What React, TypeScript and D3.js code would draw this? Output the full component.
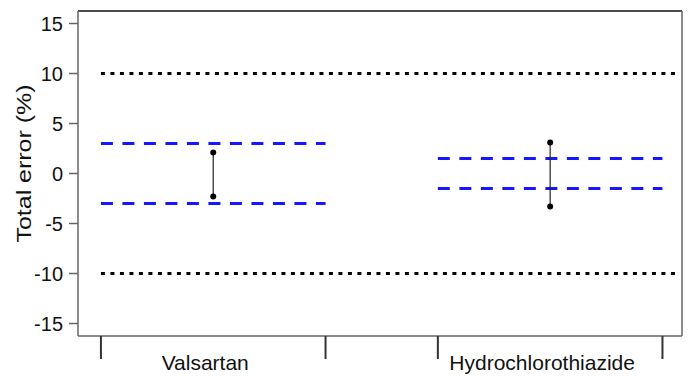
import React from 'react'
import * as d3 from 'd3'

// data
const drugs = ['Valsartan', 'Hydrochlorothiazide']
const errorLow = [-2.3, -3.3]
const errorHigh = [2.1, 3.1]
const acceptLimits = [3, 1.5] // blue dashed, +/- per drug
const totalLimits = [10, -10] // black dotted
const yTicks = [15, 10, 5, 0, -5, -10, -15]

const width = 691
const height = 376
const frame = {left: 78, right: 682, top: 11, bottom: 336}
const font = '"Liberation Sans", Arial, sans-serif'

export default function App() {
  const y = d3.scaleLinear().domain([-16.25, 16.25]).range([frame.bottom, frame.top])
  const x = d3
    .scaleBand()
    .domain(drugs)
    .range([frame.left, frame.right])
    .paddingInner(1 / 3)
    .paddingOuter(0.063)
    .align(0.54)

  const bw = x.bandwidth()
  const dotStart = x(drugs[0]) as number

  return (
    <svg
      width={width}
      height={height}
      style={{position: 'absolute', left: 0, top: 0, background: '#fff'}}
      fontFamily={font}
    >
      {/* frame */}
      <line x1={frame.left} x2={frame.right} y1={frame.top} y2={frame.top} stroke="#111" strokeWidth={1.5} />
      <line x1={frame.right} x2={frame.right} y1={frame.top} y2={frame.bottom} stroke="#666" strokeWidth={1.5} />
      <line x1={frame.left} x2={frame.right} y1={frame.bottom} y2={frame.bottom} stroke="#666" strokeWidth={1.5} />
      <line x1={frame.left} x2={frame.left} y1={frame.top} y2={frame.bottom} stroke="#666" strokeWidth={1.5} />

      {/* y axis */}
      {yTicks.map((t) => (
        <g key={t} transform={`translate(0,${y(t)})`}>
          <line x1={frame.left - 9} x2={frame.left} stroke="#666" strokeWidth={1.5} />
          <text x={frame.left - 15} dy="0.35em" textAnchor="end" fontSize={20} fill="#111">
            {t}
          </text>
        </g>
      ))}
      <text
        transform={`translate(24,${(frame.top + frame.bottom) / 2 - 10}) rotate(-90)`}
        textAnchor="middle"
        dy="0.35em"
        fontSize={20}
        textLength={158}
        lengthAdjust="spacingAndGlyphs"
        fill="#111"
      >
        Total error (%)
      </text>

      {/* x axis: group edges + labels */}
      {drugs.map((d) => {
        const x0 = x(d) as number
        return (
          <g key={d}>
            <line x1={x0} x2={x0} y1={frame.bottom} y2={frame.bottom + 23} stroke="#333" strokeWidth={2} />
            <line x1={x0 + bw} x2={x0 + bw} y1={frame.bottom} y2={frame.bottom + 23} stroke="#333" strokeWidth={2} />
            <text x={x0 + bw / 2 - 8} y={frame.bottom + 34} textAnchor="middle" fontSize={21} fill="#111">
              {d}
            </text>
          </g>
        )
      })}

      {/* total error limits */}
      {totalLimits.map((v) => (
        <line
          key={v}
          x1={dotStart}
          x2={frame.right - 2}
          y1={y(v)}
          y2={y(v)}
          stroke="#000"
          strokeWidth={2.8}
          strokeDasharray="4 5.5"
        />
      ))}

      {/* acceptance limits per drug */}
      {drugs.map((d, i) =>
        [acceptLimits[i], -acceptLimits[i]].map((v) => (
          <line
            key={d + v}
            x1={x(d) as number}
            x2={(x(d) as number) + bw}
            y1={y(v)}
            y2={y(v)}
            stroke="#1717ff"
            strokeWidth={2.8}
            strokeDasharray="12 9.5"
          />
        ))
      )}

      {/* error bars */}
      {drugs.map((d, i) => {
        const cx = (x(d) as number) + bw / 2
        return (
          <g key={d}>
            <line x1={cx} x2={cx} y1={y(errorLow[i])} y2={y(errorHigh[i])} stroke="#222" strokeWidth={1.2} />
            <circle cx={cx} cy={y(errorLow[i])} r={3} fill="#000" />
            <circle cx={cx} cy={y(errorHigh[i])} r={3} fill="#000" />
          </g>
        )
      })}
    </svg>
  )
}
